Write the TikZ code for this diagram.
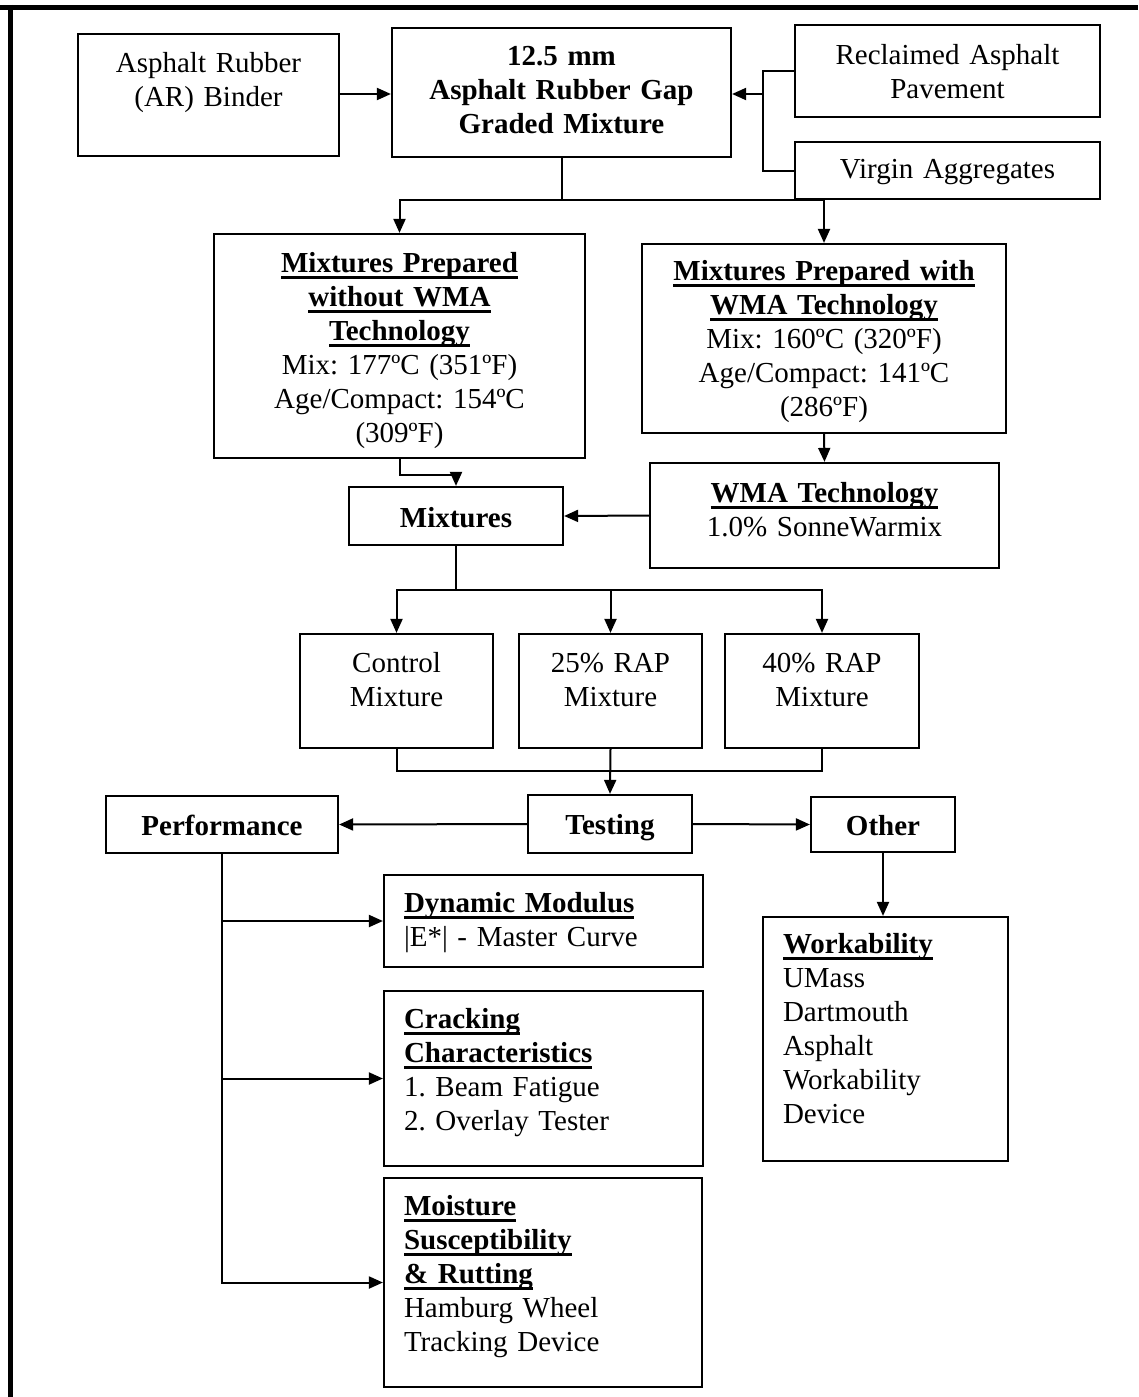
\documentclass[tikz,border=0pt]{standalone}
\usepackage{fontspec}
\setmainfont{Liberation Serif}
\usetikzlibrary{arrows.meta,positioning}
\frenchspacing
\newcommand{\hd}[1]{\setbox0\hbox{\textbf{#1}}\leavevmode\rlap{\rule[-7pt]{\wd0}{2.8pt}}\box0}

\begin{document}
\begin{tikzpicture}[x=1pt,y=-1pt,
  box/.style={rectangle, draw, line width=2.2pt, inner sep=0pt, align=center,
              font=\fontsize{29}{34}\selectfont, text height=38pt},
  lbox/.style={box, align=left, inner xsep=20pt, text height=37pt},
  arr/.style={-{Triangle[length=14pt,width=12pt]}, line width=2pt},
  ln/.style={line width=2pt},
]
  \useasboundingbox (0,0) rectangle (1138,1397);
  \draw[line width=5pt] (0,7.5) -- (1138,7.5);
  \draw[line width=5pt] (10.5,5) -- (10.5,1397);

  \node[box, text width=261pt, text height=39pt, text depth=83pt] (binder) at (208.5,95)
    {Asphalt Rubber\\(AR) Binder};
  \node[box, text width=339pt, text depth=91pt] (gap) at (561.5,92.5)
    {\textbf{12.5 mm}\\\textbf{Asphalt Rubber Gap}\\\textbf{Graded Mixture}};
  \node[box, text width=305pt, text height=40pt, text depth=52pt] (rap) at (947.5,71)
    {Reclaimed Asphalt\\Pavement};
  \node[box, text width=305pt, text height=36pt, text depth=21pt] (virgin) at (947.5,170.5)
    {Virgin Aggregates};

  \node[box, text width=371pt, text depth=186pt] (nowma) at (399.5,346)
    {\hd{Mixtures Prepared}\\\hd{without WMA}\\\hd{Technology}\\
     Mix: 177ºC (351ºF)\\Age/Compact: 154ºC\\(309ºF)};
  \node[box, text width=364pt, text height=36pt, text depth=153pt] (wwma) at (824,338.5)
    {\hd{Mixtures Prepared with}\\\hd{WMA Technology}\\
     Mix: 160ºC (320ºF)\\Age/Compact: 141ºC\\(286ºF)};
  \node[box, text width=349pt, text height=39pt, text depth=66pt] (wmatech) at (824.5,515.5)
    {\hd{WMA Technology}\\1.0\% SonneWarmix};
  \node[box, text width=214pt, text height=40pt, text depth=18pt] (mixtures) at (456,516)
    {\textbf{Mixtures}};

  \node[box, text width=193pt, text depth=76pt] (control) at (396.5,691)
    {Control\\Mixture};
  \node[box, text width=183pt, text depth=76pt] (rap25) at (610.5,691)
    {25\% RAP\\Mixture};
  \node[box, text width=194pt, text depth=76pt] (rap40) at (822,691)
    {40\% RAP\\Mixture};

  \node[box, text width=164pt, text height=39pt, text depth=19pt] (testing) at (610,824)
    {\textbf{Testing}};
  \node[box, text width=232pt, text height=39pt, text depth=18pt] (perf) at (222,824.5)
    {\textbf{Performance}};
  \node[box, text width=144pt, text depth=17pt] (other) at (883,824.5)
    {\textbf{Other}};

  \node[lbox, text width=279pt, text depth=55pt] (dynmod) at (543.5,921)
    {\hd{Dynamic Modulus}\\|E*| - Master Curve};
  \node[lbox, text width=279pt, text depth=138pt] (crack) at (543.5,1078.5)
    {\hd{Cracking}\\\hd{Characteristics}\\1. Beam Fatigue\\2. Overlay Tester};
  \node[lbox, text width=278pt, text depth=172pt] (moist) at (543,1282.5)
    {\hd{Moisture}\\\hd{Susceptibility}\\\hd{\& Rutting}\\Hamburg Wheel\\Tracking Device};
  \node[lbox, text width=205pt, text height=36pt, text depth=208pt] (work) at (885.5,1039)
    {\hd{Workability}\\UMass\\Dartmouth\\Asphalt\\Workability\\Device};

  \coordinate (feed) at (763,94);
  \coordinate (split) at (561.5,200);
  \coordinate (fan) at (456,590);
  \coordinate (merge) at (610.5,771);

  \draw[arr] (binder.east |- feed) -- (binder.east |- feed -| gap.west);
  \draw[ln] (rap.west) -| (feed) |- (virgin.west);
  \draw[arr] (feed) -- (feed -| gap.east);
  \draw[ln] (gap.south) -- (split);
  \draw[arr] (split) -| (nowma.north);
  \draw[arr] (split) -| (wwma.north);
  \draw[arr] (wwma.south) -- (wmatech.north);
  \draw[arr] (wmatech.west) -- (mixtures.east);
  \draw[arr] (nowma.south) -- ++(0,16) -| (mixtures.north);
  \draw[ln] (mixtures.south) -- (fan);
  \draw[arr] (fan) -| (control.north);
  \draw[arr] (fan) -| (rap25.north);
  \draw[arr] (fan) -| (rap40.north);
  \draw[ln] (control.south) |- (merge);
  \draw[ln] (rap40.south) |- (merge);
  \draw[arr] (rap25.south) -- (testing.north);
  \draw[arr] (testing.west) -- (perf.east);
  \draw[arr] (testing.east) -- (other.west);
  \draw[arr] (perf.south) |- (moist.west);
  \draw[arr] (perf.south |- dynmod.west) -- (dynmod.west);
  \draw[arr] (perf.south |- crack.west) -- (crack.west);
  \draw[arr] (other.south) -- (other.south |- work.north);
\end{tikzpicture}
\end{document}
